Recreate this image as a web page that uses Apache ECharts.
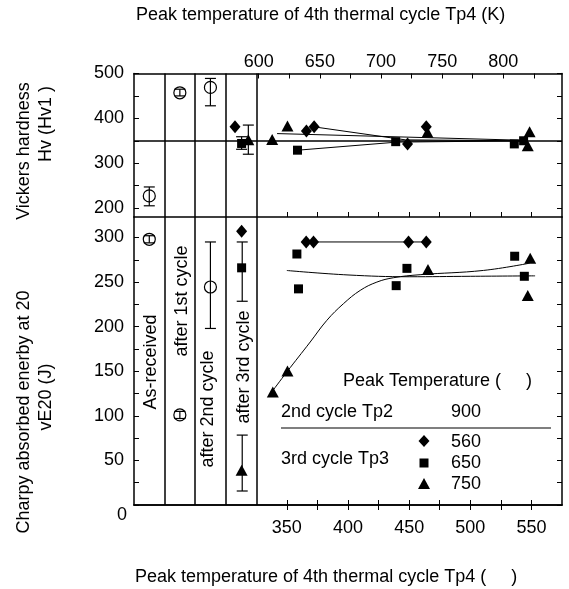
<!DOCTYPE html>
<html>
<head>
<meta charset="utf-8">
<script src="https://cdn.jsdelivr.net/npm/echarts@6/dist/echarts.min.js"></script>
<style>html,body{margin:0;padding:0;background:#fff;}#c{width:569px;height:589px;}</style>
</head>
<body>
<div id="c"></div>
<script>
// ---- tick / label values ----
const cTicks = [350, 375, 400, 425, 450, 475, 500, 525, 550];
const cLabels = [350, 400, 450, 500, 550];
const kTicks = [600, 625, 650, 675, 700, 725, 750, 775, 800, 825];
const kLabels = [600, 650, 700, 750, 800];
const hvTicks = [200, 250, 300, 350, 400, 450, 500];
const hvLabels = [200, 300, 400, 500];
const veTicks = [0, 25, 50, 75, 100, 125, 150, 175, 200, 225, 250, 275, 300];
const veLabels = [50, 100, 150, 200, 250, 300];
const dividers = [250, 275, 300, 325];
const hvRef = [350];

// ---- category labels ----
const catNames = ['As-received', 'after 1st cycle', 'after 2nd cycle', 'after 3rd cycle'];

// ---- Vickers hardness (top panel) ----
const hvOpen = [[237.5, 227], [262.5, 457], [287.5, 469]];
const hvErr = [[237.5, 205, 247], [262.5, 450, 465], [287.5, 428, 489], [313, 331, 359], [318.5, 320, 385]];
const hvDiamond = [[307.6, 381], [366, 372], [372.3, 381], [448.7, 343], [464, 381]];
const hvSquare = [[313, 344], [358.7, 329], [439, 348], [536, 343], [543.6, 350]];
const hvTriangle = [[318.5, 352], [338, 353], [350.5, 383], [465, 369], [548.5, 370], [547, 339]];
const hvTrend1 = [[372.3, 381], [447, 352], [545, 350]];
const hvTrend2 = [[342, 366], [545, 351]];
const hvTrend3 = [[359, 329], [440, 347], [545, 350]];

// ---- Charpy energy (bottom panel) ----
const veOpen = [[237.5, 298], [262.5, 101], [287.5, 244.5]];
const veErr = [[237.5, 294, 302], [262.5, 97, 105], [287.5, 198, 295], [313.5, 228.5, 295], [313.5, 15.7, 78.4]];
const veDiamond = [[313, 307], [365.8, 295], [371.8, 295], [449.5, 295], [464, 295]];
const veSquare = [[313, 266], [358.2, 281.5], [359.5, 242.4], [439.4, 246], [448.2, 265.4], [536.3, 279], [544.2, 256.5]];
const veTriangle = [[313, 39], [338.5, 126.8], [350.5, 150.3], [465.4, 264], [549, 276.6], [547, 235]];
const veDiamondLine = [[365.8, 295], [464, 295]];
const veSquareCurve = [[350, 263], [400, 258], [450, 256], [500, 256.5], [553, 257]];
const veTriangleCurve = [[337.7, 126.8], [350, 149.2], [369.1, 182.8], [382.7, 207.1], [396.3, 225.8], [410, 240.7], [423.6, 250], [437.2, 254.9], [459, 258.3], [510.9, 263.1], [548.5, 271.2]];

const FONT = "'Liberation Sans', Arial, sans-serif";
const FS = 18;
const chart = echarts.init(document.getElementById('c'), null, {renderer: 'canvas'});

const axLine = {show: true, lineStyle: {color: '#000', width: 1.5}};
function tick(vals) { return {show: true, inside: true, length: 5, customValues: vals, lineStyle: {color: '#000', width: 1}}; }
function lbl(vals, margin) { return {show: !!vals, customValues: vals || [], margin: margin, color: '#000', fontSize: FS, fontFamily: FONT}; }

function errBar(xi, yi, data) {
  return {
    type: 'custom', xAxisIndex: xi, yAxisIndex: yi, data: data, z: 3,
    encode: {x: 0, y: [1, 2]},
    renderItem: function (params, api) {
      const x = api.value(0), lo = api.value(1), hi = api.value(2);
      const p1 = api.coord([x, lo]), p2 = api.coord([x, hi]);
      const w = 5.5, st = {stroke: '#000', lineWidth: 1.2};
      return {type: 'group', children: [
        {type: 'line', shape: {x1: p1[0], y1: p1[1], x2: p2[0], y2: p2[1]}, style: st},
        {type: 'line', shape: {x1: p1[0] - w, y1: p1[1], x2: p1[0] + w, y2: p1[1]}, style: st},
        {type: 'line', shape: {x1: p2[0] - w, y1: p2[1], x2: p2[0] + w, y2: p2[1]}, style: st}
      ]};
    }
  };
}
function scat(xi, yi, data, symbol, size, open) {
  return {type: 'scatter', xAxisIndex: xi, yAxisIndex: yi, data: data, symbol: symbol, symbolSize: size, z: 4,
    itemStyle: open ? {color: 'rgba(0,0,0,0)', borderColor: '#000', borderWidth: 1.2, opacity: 1} : {color: '#000', opacity: 1}};
}
function ln(xi, yi, data, smooth) {
  return {type: 'line', xAxisIndex: xi, yAxisIndex: yi, data: data, showSymbol: false, symbol: 'none', smooth: smooth ? 0.4 : false, z: 2,
    lineStyle: {color: '#000', width: 1}};
}
function dividerSeries(xi, yi, withRef) {
  const d = dividers.map(v => ({xAxis: v}));
  if (withRef) hvRef.forEach(v => d.push({yAxis: v}));
  return {type: 'line', xAxisIndex: xi, yAxisIndex: yi, data: [], markLine: {silent: true, symbol: ['none', 'none'], label: {show: false},
    lineStyle: {color: '#000', width: 1.5, type: 'solid'}, animation: false, data: d}};
}

const txt = (t, x, y, rot, align) => ({type: 'text', x: x, y: y, rotation: rot || 0, silent: true,
  style: {text: t, fill: '#000', font: FS + 'px ' + FONT, textAlign: align || 'center', textVerticalAlign: 'middle'}});

const R = Math.PI / 2;
const graphics = [
  txt('Peak temperature of 4th thermal cycle Tp4 (K)', 136, 15, 0, 'left'),
  txt('Peak temperature of 4th thermal cycle Tp4 (     )', 135, 577, 0, 'left'),
  txt('Vickers hardness', 24, 151, R),
  txt('Hv (Hv1 )', 46, 124, R),
  txt('Charpy absorbed enerby at 20', 24, 412, R),
  txt('vE20 (J)', 46, 397, R),
  txt(catNames[0], 151, 362, R),
  txt(catNames[1], 182.5, 301, R),
  txt(catNames[2], 208.5, 409, R),
  txt(catNames[3], 244, 367, R),
  txt('0', 127, 515, 0, 'right'),
  txt('Peak Temperature (     )', 343, 381, 0, 'left'),
  txt('2nd cycle Tp2', 281, 412, 0, 'left'),
  txt('900', 451, 412, 0, 'left'),
  txt('3rd cycle Tp3', 281, 459, 0, 'left'),
  txt('560', 451, 442, 0, 'left'),
  txt('650', 451, 463, 0, 'left'),
  txt('750', 451, 484, 0, 'left'),
  {type: 'line', silent: true, shape: {x1: 281, y1: 428, x2: 551, y2: 428}, style: {stroke: '#000', lineWidth: 1.2}},
  {type: 'polygon', silent: true, shape: {points: [[424, 435], [429.5, 441], [424, 447], [418.5, 441]]}, style: {fill: '#000'}},
  {type: 'rect', silent: true, shape: {x: 419.5, y: 458.5, width: 9, height: 9}, style: {fill: '#000'}},
  {type: 'polygon', silent: true, shape: {points: [[424, 478], [430, 489], [418, 489]]}, style: {fill: '#000'}}
];

const option = {
  animation: false,
  backgroundColor: '#fff',
  grid: [
    {left: 134, top: 73.5, width: 428, height: 143.5},
    {left: 134, top: 217, width: 428, height: 288}
  ],
  xAxis: [
    {type: 'value', gridIndex: 0, position: 'bottom', min: 225, max: 575, axisLine: axLine, axisTick: tick(cTicks), axisLabel: lbl(null), splitLine: {show: false}},
    {type: 'value', gridIndex: 0, position: 'top', min: 498, max: 848, axisLine: axLine, axisTick: tick(kTicks), axisLabel: lbl(kLabels, 2), splitLine: {show: false}},
    {type: 'value', gridIndex: 1, position: 'bottom', min: 225, max: 575, axisLine: axLine, axisTick: tick(cTicks), axisLabel: lbl(cLabels, 14), splitLine: {show: false}},
    {type: 'value', gridIndex: 1, position: 'top', min: 225, max: 575, axisLine: axLine, axisTick: tick(cTicks), axisLabel: lbl(null), splitLine: {show: false}}
  ],
  yAxis: [
    {type: 'value', gridIndex: 0, position: 'left', min: 180, max: 500, axisLine: axLine, axisTick: tick(hvTicks), axisLabel: lbl(hvLabels, 10), splitLine: {show: false}},
    {type: 'value', gridIndex: 0, position: 'right', min: 180, max: 500, axisLine: axLine, axisTick: tick(hvTicks), axisLabel: lbl(null), splitLine: {show: false}},
    {type: 'value', gridIndex: 1, position: 'left', min: 0, max: 323, axisLine: axLine, axisTick: tick(veTicks), axisLabel: lbl(veLabels, 10), splitLine: {show: false}},
    {type: 'value', gridIndex: 1, position: 'right', min: 0, max: 323, axisLine: axLine, axisTick: tick(veTicks), axisLabel: lbl(null), splitLine: {show: false}}
  ],
  series: [
    dividerSeries(0, 0, true),
    dividerSeries(2, 2, false),
    errBar(0, 0, hvErr),
    scat(0, 0, hvOpen, 'circle', 12, true),
    scat(0, 0, hvDiamond, 'diamond', [11, 13], false),
    scat(0, 0, hvSquare, 'rect', 9, false),
    scat(0, 0, hvTriangle, 'triangle', [12, 11], false),
    ln(0, 0, hvTrend1, false),
    ln(0, 0, hvTrend2, false),
    ln(0, 0, hvTrend3, false),
    errBar(2, 2, veErr),
    scat(2, 2, veOpen, 'circle', 12, true),
    scat(2, 2, veDiamond, 'diamond', [11, 13], false),
    scat(2, 2, veSquare, 'rect', 9, false),
    scat(2, 2, veTriangle, 'triangle', [12, 11], false),
    ln(2, 2, veDiamondLine, false),
    ln(2, 2, veSquareCurve, true),
    ln(2, 2, veTriangleCurve, true)
  ],
  graphic: graphics
};
chart.setOption(option);
</script>
</body>
</html>
